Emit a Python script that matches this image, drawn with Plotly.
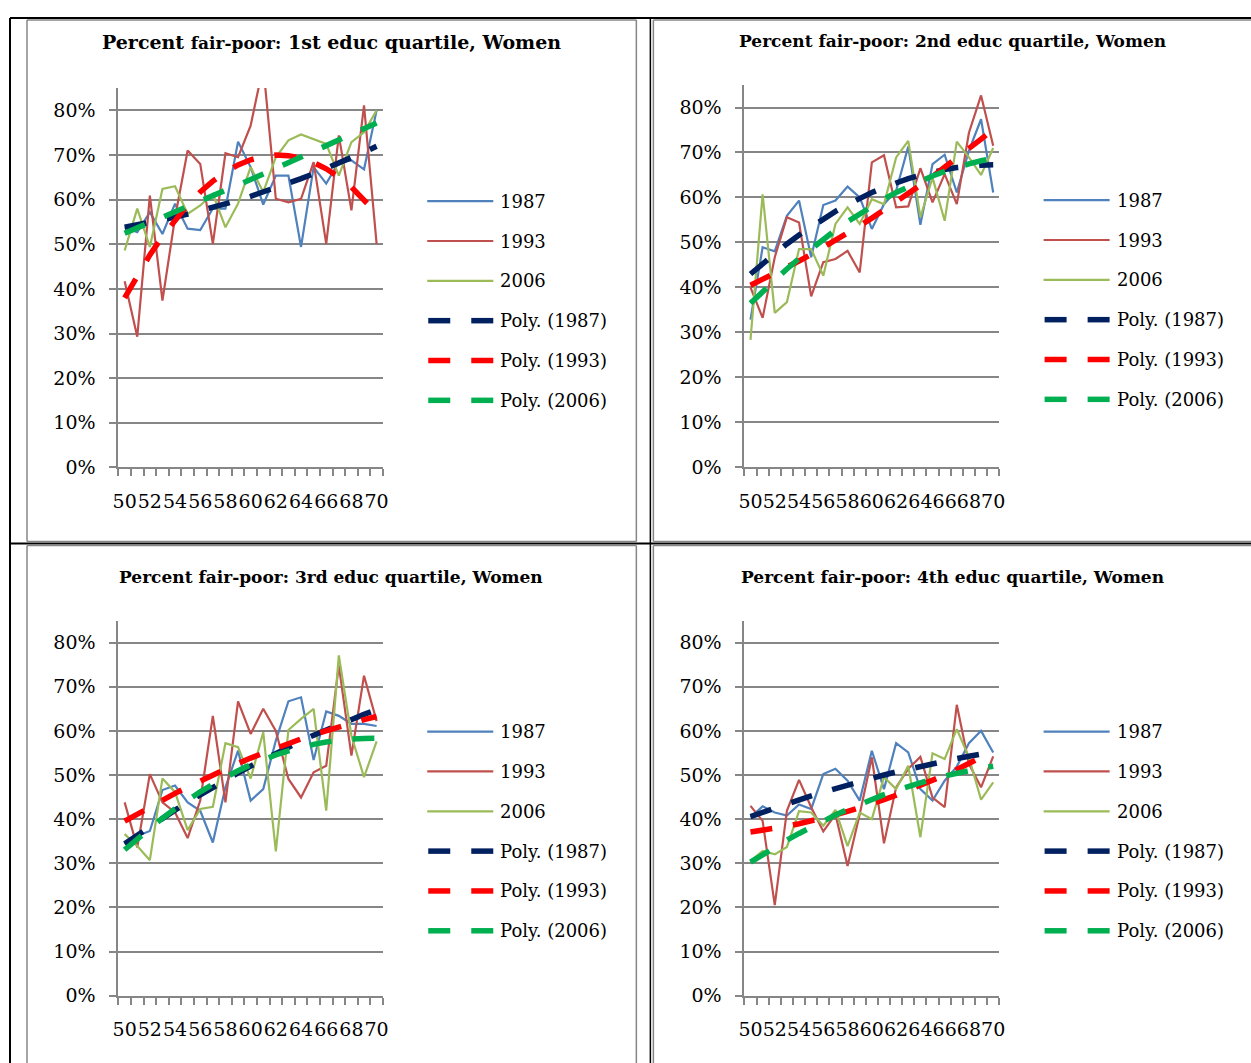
import numpy as np
import plotly.graph_objects as go

# ---------------- data (percent fair-poor, ages 50..70) ----------------
ages = list(range(50, 71))
x_tick_vals = list(range(50, 71, 2))
x_tick_text = [str(a) for a in x_tick_vals]
y_tick_vals = [0, 0.1, 0.2, 0.3, 0.4, 0.5, 0.6, 0.7, 0.8]
series_names = ["1987", "1993", "2006"]
titles = [
    "Percent <span style='font-size:17px'>fair-poor:</span> 1st educ quartile, Women",
    "Percent fair-poor: 2nd educ quartile, Women",
    "Percent fair-poor: 3rd educ quartile, Women",
    "Percent fair-poor: 4th educ quartile, Women",
]

q1_1987 = [53.8, 52.7, 57.2, 52.3, 59.1, 53.5, 53.2, 58.0, 58.0, 73.0, 67.3,
           58.9, 65.4, 65.4, 49.4, 67.3, 63.6, 68.4, 68.8, 66.8, 80.0]
q1_1993 = [41.7, 29.3, 60.9, 37.4, 56.0, 71.0, 68.0, 50.1, 70.4, 69.5, 76.6,
           90.0, 60.2, 59.4, 60.2, 68.4, 50.1, 74.4, 57.6, 81.1, 50.1]
q1_2006 = [48.6, 58.0, 49.4, 62.4, 63.0, 56.8, 58.7, 61.3, 53.8, 59.1, 67.3,
           61.7, 69.5, 73.3, 74.6, 73.6, 72.5, 65.4, 72.9, 75.1, 80.0]

q2_1987 = [32.8, 48.9, 48.0, 55.9, 59.3, 46.7, 58.3, 59.3, 62.4, 60.0, 53.0,
           58.5, 61.5, 71.3, 53.9, 67.4, 69.5, 61.1, 70.4, 77.4, 61.1]
q2_1993 = [40.0, 33.2, 46.7, 55.6, 54.4, 38.0, 45.6, 46.3, 48.1, 43.3, 67.8,
           69.4, 57.8, 58.0, 66.5, 58.9, 65.2, 58.5, 74.4, 82.7, 71.5]
q2_2006 = [28.3, 60.7, 34.3, 36.7, 48.5, 48.5, 42.6, 54.1, 57.8, 54.1, 59.6,
           58.5, 68.9, 72.6, 55.6, 64.4, 54.8, 72.4, 68.9, 65.0, 71.0]

q3_1987 = [34.3, 36.2, 37.3, 46.6, 47.6, 43.8, 41.9, 34.7, 47.2, 55.5, 44.2,
           46.8, 57.8, 66.7, 67.6, 53.4, 64.4, 63.4, 61.6, 61.6, 61.1]
q3_1993 = [43.8, 33.6, 50.2, 43.8, 41.5, 35.7, 44.2, 63.4, 43.8, 66.7, 59.3,
           65.0, 60.0, 49.1, 44.9, 50.6, 52.1, 74.8, 54.4, 72.5, 62.2]
q3_2006 = [36.6, 33.9, 30.7, 49.2, 46.1, 37.5, 42.3, 42.8, 57.2, 56.3, 49.2,
           59.7, 32.7, 60.2, 62.7, 65.0, 41.9, 77.1, 58.9, 49.5, 57.6]

q4_1987 = [40.4, 42.9, 41.5, 40.8, 43.3, 42.3, 50.2, 51.4, 48.7, 44.2, 55.5,
           46.8, 57.2, 55.1, 46.8, 44.2, 48.7, 51.9, 57.2, 60.0, 55.1]
q4_1993 = [43.0, 39.6, 20.5, 41.9, 48.9, 42.7, 37.2, 41.1, 29.4, 41.1, 54.0,
           34.5, 47.2, 51.4, 54.1, 44.9, 42.7, 65.9, 52.5, 47.2, 54.2]
q4_2006 = [30.5, 32.8, 32.0, 33.7, 41.8, 41.5, 38.5, 42.1, 33.9, 41.5, 40.0,
           49.5, 46.8, 52.1, 35.9, 54.9, 53.6, 60.4, 54.0, 44.4, 48.3]

panel_data = [
    [q1_1987, q1_1993, q1_2006],
    [q2_1987, q2_1993, q2_2006],
    [q3_1987, q3_1993, q3_2006],
    [q4_1987, q4_1993, q4_2006],
]

# ---------------- styling ----------------
W, H = 1251, 1063              # target picture size
FW, FH = 1272, 1082            # figure size (extra is simply cut off)
FONT = "DejaVu Serif"
line_colors = ["#4F81BD", "#C0504D", "#9BBB59"]
trend_colors = ["#002060", "#FF0000", "#00B050"]
GRID = "#868686"
DASH = "22px,21px"

# plot-area boxes in target pixels: (x_left, x_right, y_top(85%), y_zero)
boxes = [
    (118.3, 382.7, 88.0, 467.0),
    (744.0, 998.7, 85.0, 466.7),
    (118.3, 382.7, 620.0, 994.8),
    (744.0, 998.7, 620.0, 994.8),
]
title_pos = [(331, 42), (952, 41), (331, 577), (952, 577)]
title_size = [19, 17, 17, 17]
legend_x = [427, 1043, 427, 1043]
legend_y0 = [201, 200, 731, 731]
LEG_STEP = 39.8


def px(x):
    return ((x - 6.0) / 0.990) / FW


def py(y):
    return 1 - (y / 0.989) / FH


fig = go.Figure()
shapes = []
annotations = []

for p in range(4):
    xl, xr, yt, yb = boxes[p]
    sfx = "" if p == 0 else str(p + 1)
    xa, ya = "x" + sfx, "y" + sfx
    for s in range(3):
        vals = np.array(panel_data[p][s]) / 100.0
        fig.add_trace(go.Scatter(
            x=ages, y=vals, mode="lines", xaxis=xa, yaxis=ya,
            line=dict(color=line_colors[s], width=2.2),
            showlegend=False, name=series_names[s]))
    for s in range(3):
        vals = np.array(panel_data[p][s]) / 100.0
        coef = np.polyfit(ages, vals, 2)
        trend = np.polyval(coef, ages)
        fig.add_trace(go.Scatter(
            x=ages, y=trend, mode="lines", xaxis=xa, yaxis=ya,
            line=dict(color=trend_colors[s], width=5.5, dash=DASH),
            showlegend=False, name="Poly. (" + series_names[s] + ")"))

    fig.update_layout(**{
        "xaxis" + sfx: dict(
            domain=[px(xl), px(xr)], anchor=ya, range=[49.5, 70.5],
            showline=True, linecolor=GRID, linewidth=2, showgrid=False,
            zeroline=False, tickmode="array", tickvals=x_tick_vals,
            ticktext=x_tick_text, ticks="", ticklabelstandoff=16, tickangle=0,
            tickfont=dict(family=FONT, size=19, color="#000"),
            minor=dict(tickmode="array", tickvals=[v - 0.5 for v in ages] + [70.5],
                       ticks="outside", ticklen=7, tickwidth=1.5, tickcolor=GRID,
                       showgrid=False),
            fixedrange=True),
        "yaxis" + sfx: dict(
            domain=[py(yb), py(yt)], anchor=xa, range=[0, 0.85],
            showline=True, linecolor=GRID, linewidth=2, showgrid=True,
            gridcolor=GRID, gridwidth=2, zeroline=False,
            tickmode="array", tickvals=y_tick_vals, tickformat=".0%",
            ticks="outside", ticklen=7, tickwidth=1.5, tickcolor=GRID,
            ticklabelstandoff=10,
            tickfont=dict(family=FONT, size=19, color="#000"),
            fixedrange=True),
    })

    annotations.append(dict(
        text="<b>" + titles[p] + "</b>", x=px(title_pos[p][0]), y=py(title_pos[p][1]),
        xref="paper", yref="paper", xanchor="center", yanchor="middle",
        showarrow=False, font=dict(family=FONT, size=title_size[p], color="#000")))

    labels = series_names + ["Poly. (" + n + ")" for n in series_names]
    for k in range(6):
        yy = legend_y0[p] + k * LEG_STEP
        if k < 3:
            shapes.append(dict(type="line", xref="paper", yref="paper",
                               x0=px(legend_x[p]), x1=px(legend_x[p] + 66),
                               y0=py(yy), y1=py(yy),
                               line=dict(color=line_colors[k], width=2.2)))
        else:
            for d0 in (0, 43):
                shapes.append(dict(type="line", xref="paper", yref="paper",
                                   x0=px(legend_x[p] + d0 + 1), x1=px(legend_x[p] + d0 + 23),
                                   y0=py(yy), y1=py(yy),
                                   line=dict(color=trend_colors[k - 3], width=5.5)))
        annotations.append(dict(
            text=labels[k], x=px(legend_x[p] + 71), y=py(yy),
            xref="paper", yref="paper", xanchor="left", yanchor="middle",
            showarrow=False, font=dict(family=FONT, size=18, color="#000")))


def vline(x, y0, y1, color, w):
    shapes.append(dict(type="line", xref="paper", yref="paper", x0=px(x), x1=px(x),
                       y0=py(y0), y1=py(y1), line=dict(color=color, width=w), layer="below"))


def hline(y, x0, x1, color, w):
    shapes.append(dict(type="line", xref="paper", yref="paper", x0=px(x0), x1=px(x1),
                       y0=py(y), y1=py(y), line=dict(color=color, width=w), layer="below"))


BOT, RGT = H + 20, W + 20
hline(18, 10, RGT, "#000", 2)
vline(10, 18, BOT, "#000", 2)
hline(543, 10, RGT, "#000", 2)
vline(650, 18, BOT, "#000", 1.5)
vline(27, 20, 541, GRID, 1.5)
vline(636, 20, 541, GRID, 1.5)
hline(20, 27, 636, GRID, 1.5)
hline(541, 27, 636, GRID, 1.5)
vline(653, 20, 541, GRID, 1.5)
hline(20, 653, RGT, GRID, 1.5)
hline(541, 653, RGT, GRID, 1.5)
vline(27, 545, BOT, GRID, 1.5)
vline(636, 545, BOT, GRID, 1.5)
hline(545, 27, 636, GRID, 1.5)
vline(653, 545, BOT, GRID, 1.5)
hline(545, 653, RGT, GRID, 1.5)

fig.update_layout(
    width=FW, height=FH, margin=dict(l=0, r=0, t=0, b=0),
    paper_bgcolor="white", plot_bgcolor="white",
    showlegend=False, shapes=shapes, annotations=annotations,
    font=dict(family=FONT, color="#000"),
)

fig.write_html(
    "out.html",
    config={"displayModeBar": False},
    post_script="document.body.style.margin='0';document.body.style.overflow='hidden';",
)
